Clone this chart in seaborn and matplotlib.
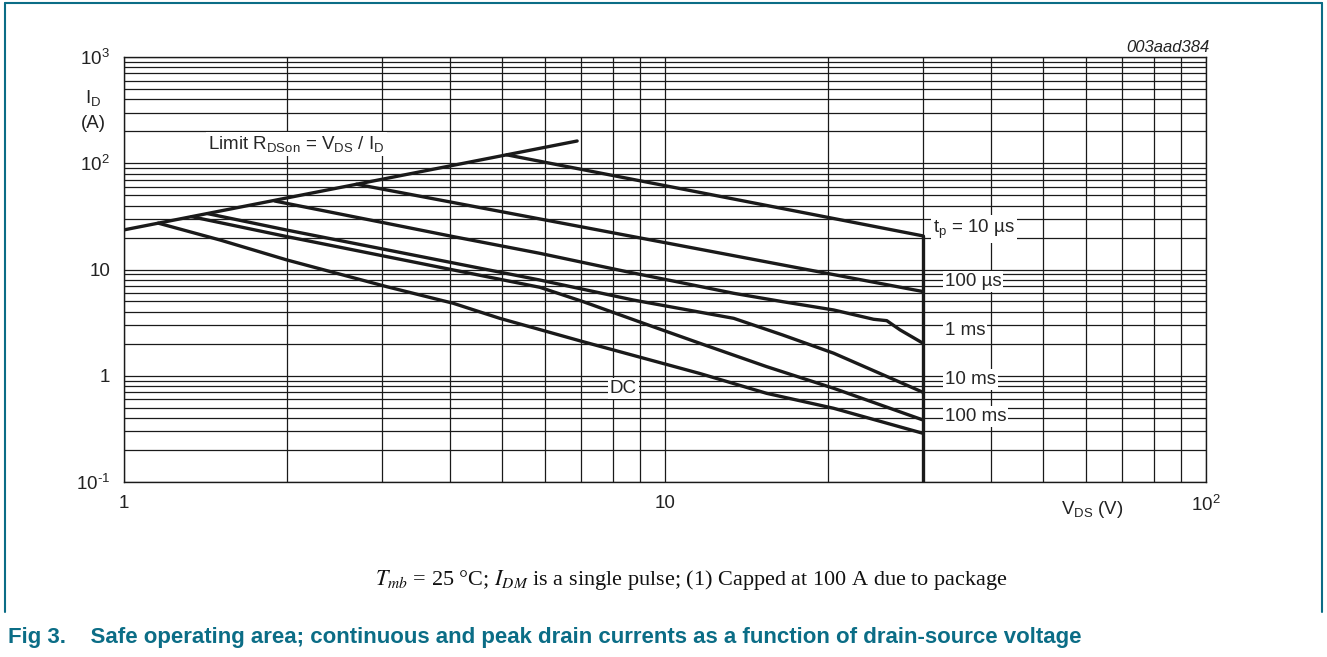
import numpy as np
import pandas as pd
import matplotlib
matplotlib.use("Agg")
import matplotlib.pyplot as plt
import seaborn as sns
from matplotlib.ticker import FixedLocator, FixedFormatter, NullFormatter
from matplotlib.lines import Line2D

# ---------------- data ----------------
limit_v = [1.0, 6.88]
limit_i = [23.6, 162.0]

tp10us_v = [5.10, 30.0]
tp10us_i = [120.0, 20.7]

tp100us_v = [2.69, 30.0]
tp100us_i = [63.5, 6.2]

tp1ms_v = [1.90, 3.06, 4.06, 5.87, 8.50, 10.5, 13.4, 16.5, 20.5, 24.3, 25.7, 27.2, 30.0]
tp1ms_i = [44.1, 27.2, 20.4, 14.2, 9.53, 7.68, 5.97, 4.98, 4.16, 3.40, 3.30, 2.70, 2.02]

tp10ms_v = [1.43, 2.0, 5.87, 8.74, 13.4, 16.5, 20.5, 30.0]
tp10ms_i = [33.5, 23.5, 7.96, 5.16, 3.47, 2.42, 1.63, 0.698]

tp100ms_v = [1.334, 2.0, 5.87, 7.06, 9.12, 11.6, 15.4, 20.5, 30.0]
tp100ms_i = [31.4, 20.4, 6.80, 4.98, 3.12, 2.02, 1.22, 0.762, 0.383]

dc_v = [1.157, 1.505, 2.0, 3.06, 4.06, 4.95, 7.06, 11.6, 15.4, 20.5, 30.0]
dc_i = [27.3, 18.95, 12.3, 6.89, 4.81, 3.47, 2.09, 1.05, 0.684, 0.494, 0.287]

cap_v = [30.0, 30.0]
cap_i = [20.7, 0.1]

x_ticks = [1, 10, 100]
x_tick_labels = ["1", "10", r"$\mathregular{10^2}$"]
y_ticks = [0.1, 1, 10, 100, 1000]
y_tick_labels = [r"$\mathregular{10^{\text{-}1}}$", "1", "10",
                 r"$\mathregular{10^2}$", r"$\mathregular{10^3}$"]

curve_labels = [r"$\mathregular{t_p}$ = 10 µs", "100 µs", "1 ms", "10 ms", "100 ms"]

# ---------------- style ----------------
sns.set_theme(style="white")
plt.rcParams["font.family"] = ["Liberation Sans", "DejaVu Sans"]
plt.rcParams["mathtext.fontset"] = "custom"
plt.rcParams["mathtext.rm"] = "Liberation Sans"
plt.rcParams["mathtext.it"] = "Liberation Sans:italic"
plt.rcParams["mathtext.bf"] = "Liberation Sans:bold"

W, H = 1327, 657
fig = plt.figure(figsize=(W / 100, H / 100), dpi=100)
fig.patch.set_facecolor("white")

left_px, right_px, top_px, bottom_px = 124, 1206, 57, 482
ax = fig.add_axes([left_px / W, 1 - bottom_px / H,
                   (right_px - left_px) / W, (bottom_px - top_px) / H])

series = [
    (limit_v, limit_i),
    (tp10us_v, tp10us_i),
    (tp100us_v, tp100us_i),
    (tp1ms_v, tp1ms_i),
    (tp10ms_v, tp10ms_i),
    (tp100ms_v, tp100ms_i),
    (dc_v, dc_i),
    (cap_v, cap_i),
]
for v, i in series:
    df = pd.DataFrame({"V": v, "I": i})
    sns.lineplot(data=df, x="V", y="I", ax=ax, color="#1a1a1a", linewidth=2.4,
                 sort=False, estimator=None, zorder=4)

ax.set_xscale("log")
ax.set_yscale("log")
ax.set_xlim(1, 100)
ax.set_ylim(0.1, 1000)
ax.set_xlabel("")
ax.set_ylabel("")

ax.xaxis.set_major_locator(FixedLocator(x_ticks))
ax.xaxis.set_major_formatter(FixedFormatter(x_tick_labels))
ax.yaxis.set_major_locator(FixedLocator(y_ticks))
ax.yaxis.set_major_formatter(FixedFormatter(y_tick_labels))
minor_x = [m * 10 ** d for d in range(0, 2) for m in range(2, 10)]
minor_y = [m * 10.0 ** d for d in range(-1, 3) for m in range(2, 10)]
ax.xaxis.set_minor_locator(FixedLocator(minor_x))
ax.yaxis.set_minor_locator(FixedLocator(minor_y))
ax.xaxis.set_minor_formatter(NullFormatter())
ax.yaxis.set_minor_formatter(NullFormatter())

ax.tick_params(axis="both", which="both", length=0, labelsize=13.5, colors="#222222")
ax.tick_params(axis="x", pad=9)
ax.tick_params(axis="y", pad=10)
ax.grid(True, which="both", color="#1a1a1a", linewidth=0.9)
ax.set_axisbelow(True)
for s in ax.spines.values():
    s.set_color("#1a1a1a")
    s.set_linewidth(1.0)

box = dict(facecolor="white", edgecolor="none", pad=1.5)
fs = 13.5
ax.text(31.3, 24.0, curve_labels[0], fontsize=fs, va="center", ha="left", bbox=box, zorder=5)
ax.text(32.9, 7.71, curve_labels[1], fontsize=fs, va="center", ha="left", bbox=box, zorder=5)
ax.text(32.9, 2.67, curve_labels[2], fontsize=fs, va="center", ha="left", bbox=box, zorder=5)
ax.text(32.9, 0.922, curve_labels[3], fontsize=fs, va="center", ha="left", bbox=box, zorder=5)
ax.text(32.9, 0.4135, curve_labels[4], fontsize=fs, va="center", ha="left", bbox=box, zorder=5)
ax.text(8.38, 0.759, "DC", fontsize=fs, va="center", ha="center", bbox=box, zorder=5)
ax.text(1.43, 151.7, r"Limit $\mathregular{R_{DSon}}$ = $\mathregular{V_{DS}}$ / $\mathregular{I_D}$",
        fontsize=fs, va="center", ha="left", bbox=box, zorder=5)

# axis titles
fig.text(93 / W, 1 - 98 / H, r"$\mathregular{I_D}$", fontsize=fs, ha="center", va="center", color="#222222")
fig.text(93 / W, 1 - 123 / H, "(A)", fontsize=fs, ha="center", va="center", color="#222222")
fig.text(1092 / W, 1 - 510 / H, r"$\mathregular{V_{DS}}$ (V)", fontsize=fs, ha="center", va="center", color="#222222")
fig.text(1210 / W, 1 - 47 / H, "003aad384", fontsize=12, style="italic", ha="right", va="center", color="#222222")

# figure frame
teal = "#0b6d86"
fig.add_artist(Line2D([5 / W, 5 / W], [1 - 3 / H, 1 - 612 / H], color=teal, linewidth=1.5))
fig.add_artist(Line2D([5 / W, 1322 / W], [1 - 3 / H, 1 - 3 / H], color=teal, linewidth=1.5))
fig.add_artist(Line2D([1322 / W, 1322 / W], [1 - 3 / H, 1 - 612 / H], color=teal, linewidth=1.5))

fig.text(691 / W, 1 - 580 / H,
         r"$T_{mb}$ = 25 °C; $I_{DM}$ is a single pulse; (1) Capped at 100 A due to package",
         fontsize=16, family=["Liberation Serif", "DejaVu Serif"], math_fontfamily="stix",
         ha="center", va="center", color="#111111")

fig.text(8 / W, 1 - 637 / H,
         "Fig 3.    Safe operating area; continuous and peak drain currents as a function of drain-source voltage",
         fontsize=16, weight="bold", color=teal, ha="left", va="center",
         family=["Liberation Sans Narrow", "Liberation Sans", "DejaVu Sans"])

fig.savefig("out.png", dpi=100, facecolor="white")
